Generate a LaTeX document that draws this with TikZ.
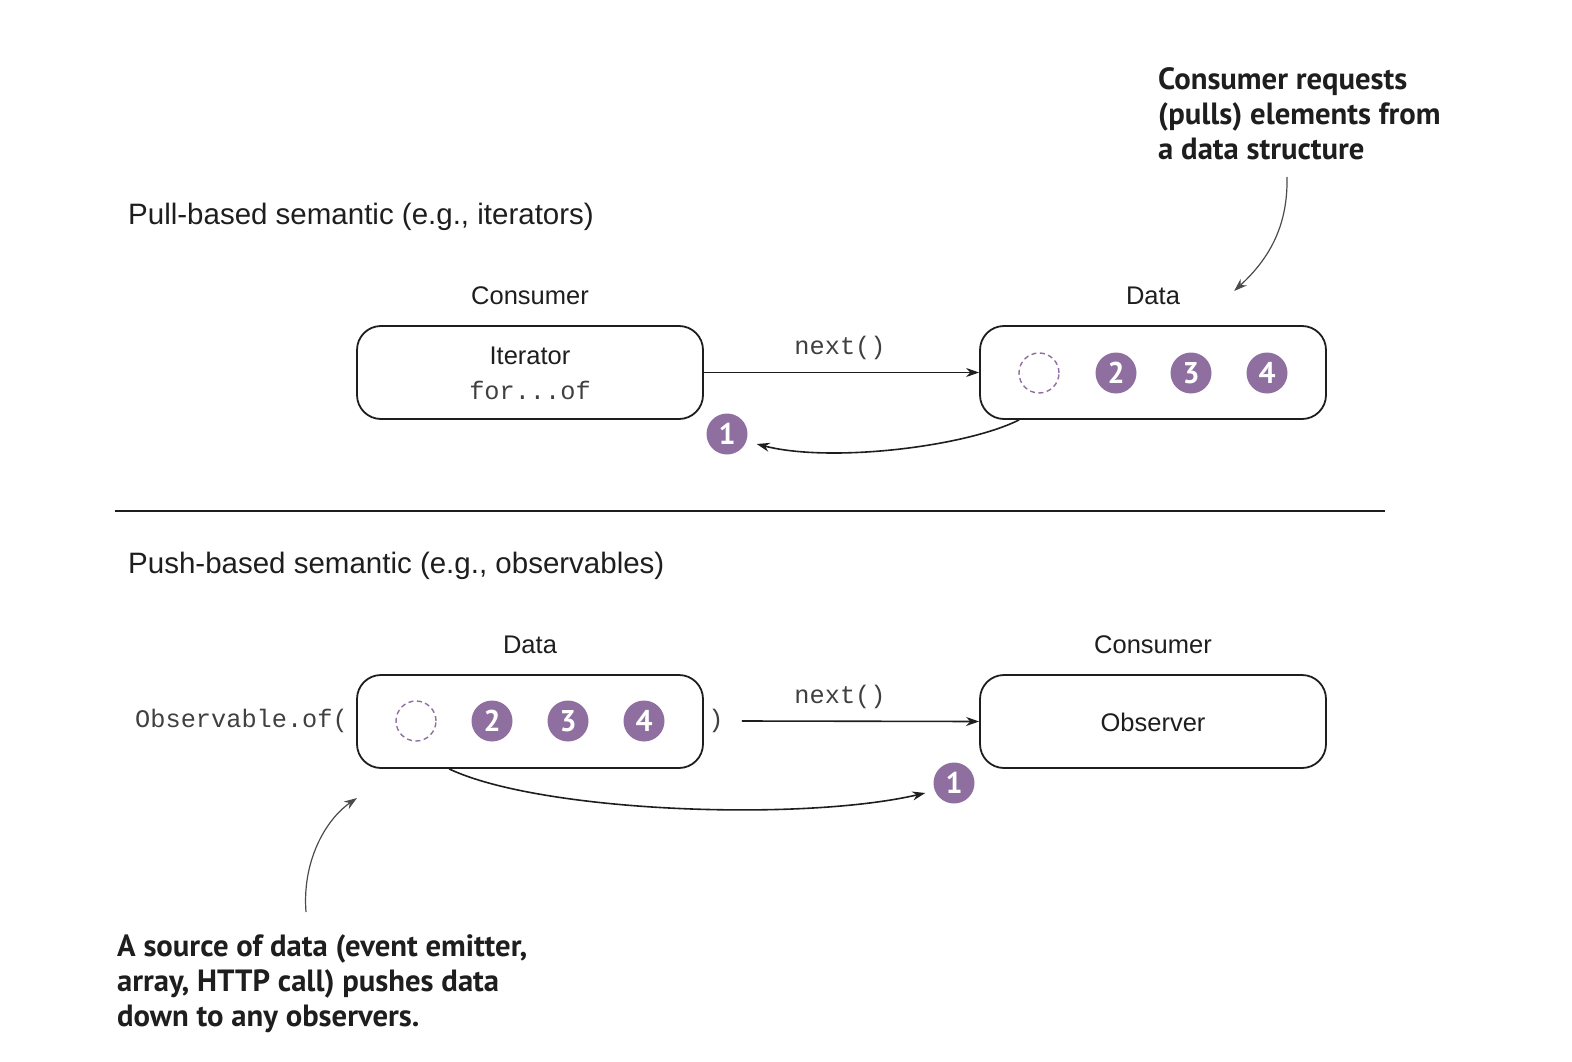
\documentclass[tikz,border=0pt]{standalone}
\usepackage{fontspec}
\setmainfont{Liberation Sans}
\setmonofont{Liberation Mono}
\newfontfamily\annfont{PT Sans}
\usetikzlibrary{arrows.meta,calc}
\definecolor{purp}{RGB}{143,110,160}
\definecolor{ink}{RGB}{30,30,30}
\begin{document}
\begin{tikzpicture}[x=1pt,y=-1pt,
  box/.style={draw=ink,line width=1.8pt,rounded corners=24pt,minimum width=346pt,minimum height=93pt,inner sep=0pt},
  lbl/.style={font=\fontsize{25.5}{30}\selectfont,text=ink,inner sep=0pt},
  ttl/.style={font=\fontsize{29.5}{34}\selectfont,text=ink,inner sep=0pt,anchor=west},
  mono/.style={font=\ttfamily\fontsize{25.3}{30}\selectfont,text=ink!85,inner sep=0pt},
  num/.style={circle,fill=purp,minimum size=41pt,inner sep=0pt,text=white,font=\annfont\bfseries\fontsize{30}{30}\selectfont},
  empty/.style={circle,draw=purp,dashed,dash pattern=on 5pt off 3.5pt,line width=1.4pt,minimum size=40pt,inner sep=0pt},
  ann/.style={font=\annfont\bfseries\fontsize{30.7}{35}\selectfont,text=ink,inner sep=0pt,anchor=north west,align=left},
  conn/.style={draw=ink,line width=1.6pt,-{Stealth[length=13pt,width=9pt]}},
  annarrow/.style={draw=ink!80,line width=1.2pt,-{Stealth[length=13pt,width=9pt]}}
]
\useasboundingbox (0,0) rectangle (1572,1062);

% ---------- Pull section ----------
\node[ttl] (pulltitle) at (128,217) {Pull-based semantic (e.g., iterators)};

\node[lbl] (consumer1) at (530,296) {Consumer};
\node[box] (iterbox) at (530,372.5) {};
\node[lbl] (iterator) at (530,356) {Iterator};
\node[mono] (forof) at (530,390) {for...of};

\node[lbl] (data1) at (1153,296) {Data};
\node[box] (databox1) at (1153,372.5) {};
\node[empty] (e1) at (1039,373) {};
\node[num] (p2) at (1116,373) {2};
\node[num] (p3) at (1191,373) {3};
\node[num] (p4) at (1267,373) {4};

\draw[conn] (iterbox.east) -- (databox1.west);
\node[mono] (next1) at (840,348) {next()};

\node[num] (p1) at (727,434) {1};
\coordinate (pullstart) at ($(databox1.south west)+(40,0)$);
\coordinate (pullend) at ($(p1.east)+(9,10)$);
\draw[conn] (pullstart) .. controls (965,447) and (830,463) .. (pullend);

\node[ann] (annpull) at (1158,67) {Consumer requests\\(pulls) elements from\\a data structure};
\coordinate (annpullstart) at (1287,177);
\draw[annarrow] (annpullstart) .. controls (1288,225) and (1270,258) .. ($(data1.east)+(54,-5)$);

% ---------- separator ----------
\coordinate (sepL) at (115,511);
\coordinate (sepR) at (1385,511);
\draw[draw=ink,line width=1.5pt] (sepL) -- (sepR);

% ---------- Push section ----------
\node[ttl] (pushtitle) at (128,566) {Push-based semantic (e.g., observables)};

\node[lbl] (data2) at (530,645) {Data};
\node[box] (databox2) at (530,721.5) {};
\node[empty] (e2) at (416,721) {};
\node[num] (q2) at (492,721) {2};
\node[num] (q3) at (568,721) {3};
\node[num] (q4) at (644,721) {4};
\node[mono,anchor=east] (obsof) at (348,721) {Observable.of(};
\node[mono] (close) at (716,721) {)};

\node[lbl] (consumer2) at (1153,645) {Consumer};
\node[box] (obsbox) at (1153,721.5) {};
\node[lbl] (observer) at (1153,722) {Observer};

\draw[conn] ($(close.east)+(18,0)$) -- (obsbox.west);
\node[mono] (next2) at (840,697) {next()};

\node[num] (q1) at (954,783) {1};
\coordinate (pushstart) at ($(databox2.south west)+(93,0)$);
\draw[conn] (pushstart) .. controls (540,812) and (800,822) .. ($(q1.west)+(-8,10)$);

\node[ann] (annpush) at (117,934) {A source of data (event emitter,\\array, HTTP call) pushes data\\down to any observers.};
\coordinate (annpushstart) at (306,912);
\coordinate (annpushend) at (357,798);
\draw[annarrow] (annpushstart) .. controls (302,862) and (325,820) .. (annpushend);
\end{tikzpicture}
\end{document}
